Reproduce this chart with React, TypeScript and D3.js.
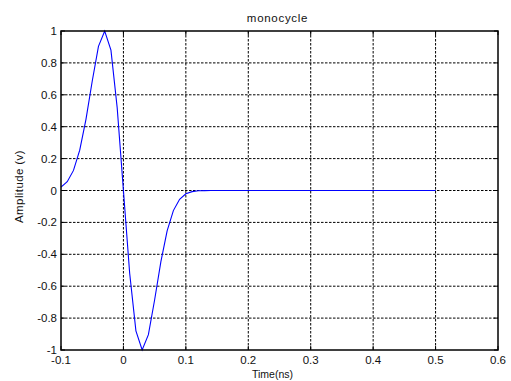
import React from 'react';
import * as d3 from 'd3';

// monocycle pulse, sampled every 0.01 ns
const timeNs = [
  -0.1, -0.09, -0.08, -0.07, -0.06, -0.05, -0.04, -0.03, -0.02, -0.01,
  0, 0.01, 0.02, 0.03, 0.04, 0.05, 0.06, 0.07, 0.08, 0.09,
  0.1, 0.11, 0.12, 0.13, 0.14, 0.15, 0.16, 0.17, 0.18, 0.19,
  0.2, 0.21, 0.22, 0.23, 0.24, 0.25, 0.26, 0.27, 0.28, 0.29,
  0.3, 0.31, 0.32, 0.33, 0.34, 0.35, 0.36, 0.37, 0.38, 0.39,
  0.4, 0.41, 0.42, 0.43, 0.44, 0.45, 0.46, 0.47, 0.48, 0.49, 0.5,
];
const amplitude = [
  0.021, 0.055, 0.126, 0.253, 0.446, 0.685, 0.904, 1.0, 0.88, 0.519,
  0, -0.519, -0.88, -1.0, -0.904, -0.685, -0.446, -0.253, -0.126, -0.055,
  -0.021, -0.007, -0.002, -0.0006, 0, 0, 0, 0, 0, 0,
  0, 0, 0, 0, 0, 0, 0, 0, 0, 0,
  0, 0, 0, 0, 0, 0, 0, 0, 0, 0,
  0, 0, 0, 0, 0, 0, 0, 0, 0, 0, 0,
];
const xTicks = [-0.1, 0, 0.1, 0.2, 0.3, 0.4, 0.5, 0.6];
const yTicks = [-1, -0.8, -0.6, -0.4, -0.2, 0, 0.2, 0.4, 0.6, 0.8, 1];

const W = 511, H = 381;
const left = 61, right = 498, top = 31, bottom = 350;
const font = '"Liberation Sans", Arial, sans-serif';

export default function App() {
  const x = d3.scaleLinear().domain([-0.1, 0.6]).range([left, right]);
  const y = d3.scaleLinear().domain([-1, 1]).range([bottom, top]);
  const line = d3.line<number>()
    .x((_, i) => x(timeNs[i]))
    .y(d => y(d));
  const fmt = (v: number) => String(+v.toFixed(1));

  return (
    <svg width={W} height={H} style={{ position: 'absolute', left: 0, top: 0, background: '#fff' }}>
      <rect x={0} y={0} width={W} height={H} fill="#fff" />
      {/* grid */}
      {xTicks.slice(1, -1).map(t => (
        <line key={'gx' + t} x1={x(t)} x2={x(t)} y1={top} y2={bottom}
          stroke="#000" strokeWidth={1} strokeDasharray="2.5,1.5" />
      ))}
      {yTicks.slice(1, -1).map(t => (
        <line key={'gy' + t} x1={left} x2={right} y1={y(t)} y2={y(t)}
          stroke="#000" strokeWidth={1} strokeDasharray="2.5,1.5" />
      ))}
      {/* tick marks */}
      {xTicks.map(t => (
        <g key={'tx' + t}>
          <line x1={x(t)} x2={x(t)} y1={bottom} y2={bottom - 4} stroke="#000" />
          <line x1={x(t)} x2={x(t)} y1={top} y2={top + 4} stroke="#000" />
          <text x={x(t)} y={364} textAnchor="middle" fontFamily={font} fontSize={11.5} fill="#111">{fmt(t)}</text>
        </g>
      ))}
      {yTicks.map(t => (
        <g key={'ty' + t}>
          <line x1={left} x2={left + 4} y1={y(t)} y2={y(t)} stroke="#000" />
          <line x1={right} x2={right - 4} y1={y(t)} y2={y(t)} stroke="#000" />
          <text x={57} y={y(t) + 4} textAnchor="end" fontFamily={font} fontSize={11.5} fill="#111">{fmt(t)}</text>
        </g>
      ))}
      {/* curve */}
      <path d={line(amplitude) || ''} fill="none" stroke="#0000ff" strokeWidth={1.1} />
      {/* box */}
      <rect x={left} y={top} width={right - left} height={bottom - top} fill="none" stroke="#000" strokeWidth={1.5} />
      {/* labels */}
      <text x={277.5} y={22} textAnchor="middle" fontFamily={font} fontSize={11.5} letterSpacing={0.7} fill="#111">monocycle</text>
      <text x={272.5} y={378} textAnchor="middle" fontFamily={font} fontSize={10.5} fill="#111">Time(ns)</text>
      <text transform={`translate(23,186.5) rotate(-90)`} textAnchor="middle" fontFamily={font} fontSize={11.5} letterSpacing={0.4} fill="#111">Amplitude (v)</text>
    </svg>
  );
}
